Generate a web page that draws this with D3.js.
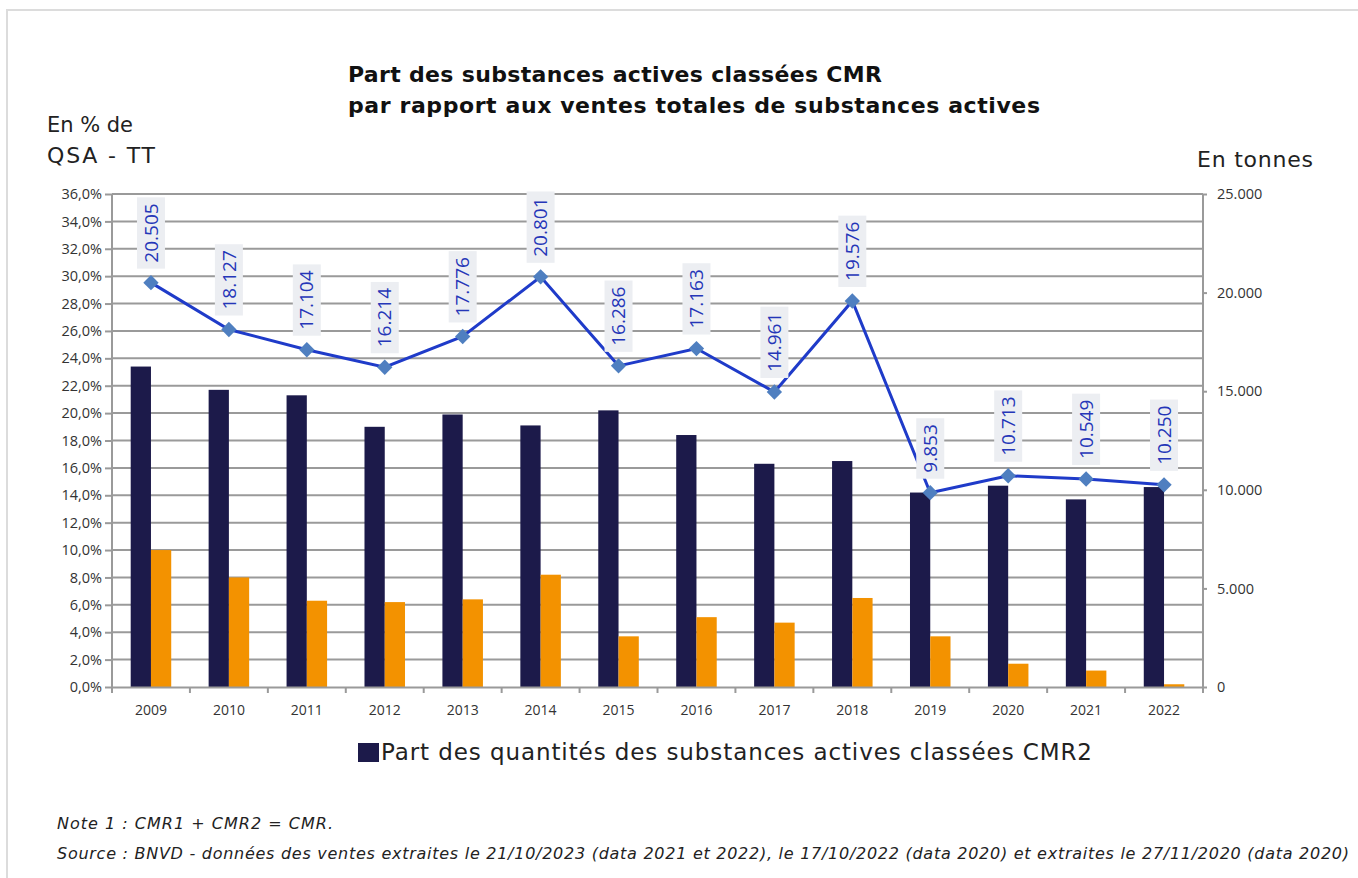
<!DOCTYPE html>
<html>
<head>
<meta charset="utf-8">
<script src="https://cdn.jsdelivr.net/npm/d3@7"></script>
<style>
  html, body { margin: 0; padding: 0; background: #fff; }
  svg { display: block; font-family: "Open Sans", "Noto Sans", sans-serif; }
</style>
</head>
<body>
<div id="chart"></div>
<script>
// ---- Data ----
const years = ["2009","2010","2011","2012","2013","2014","2015","2016","2017","2018","2019","2020","2021","2022"];
const shareCMR2 = [23.4, 21.7, 21.3, 19.0, 19.9, 19.1, 20.2, 18.4, 16.3, 16.5, 14.2, 14.7, 13.7, 14.6];
const shareCMR1 = [10.0, 8.0, 6.3, 6.2, 6.4, 8.2, 3.7, 5.1, 4.7, 6.5, 3.7, 1.7, 1.2, 0.2];
const tonnesCMR = [20505, 18127, 17104, 16214, 17776, 20801, 16286, 17163, 14961, 19576, 9853, 10713, 10549, 10250];
const tonnesLabels = ["20.505","18.127","17.104","16.214","17.776","20.801","16.286","17.163","14.961","19.576","9.853","10.713","10.549","10.250"];
const leftTicks = [0,2,4,6,8,10,12,14,16,18,20,22,24,26,28,30,32,34,36];
const rightTicks = [0,5000,10000,15000,20000,25000];
const seriesKeys = ["cmr2","cmr1"];
const titleLines = ["Part des substances actives classées CMR", "par rapport aux ventes totales de substances actives"];
const legendLabel = "Part des quantités des substances actives classées CMR2";
const noteText = "Note 1 : CMR1 + CMR2 = CMR.";
const sourceText = "Source : BNVD - données des ventes extraites le 21/10/2023 (data 2021 et 2022), le 17/10/2022 (data 2020) et extraites le 27/11/2020 (data 2020)";

// ---- Layout ----
const W = 1358, H = 878;
const plot = { left: 112, right: 1203, top: 194, bottom: 687 };
const colors = { cmr2: "#1c1a4a", cmr1: "#f39200", line: "#1f3bc9", marker: "#4f7fc0", grid: "#9a9a9a", label: "#2536b8" };
const wideFont = "'DejaVu Sans', 'Open Sans', sans-serif";

const svg = d3.select("#chart").append("svg").attr("width", W).attr("height", H);

// frame
svg.append("rect").attr("x", 7).attr("y", 10).attr("width", W + 20).attr("height", H + 20)
  .attr("fill", "none").attr("stroke", "#dcdcdc").attr("stroke-width", 2);

// fit text to a target width: grow font-size (bounded), then letter-spacing for the rest
function fitText(sel, target, maxSize) {
  const node = sel.node();
  let fs = parseFloat(sel.attr("font-size"));
  let len = node.getComputedTextLength();
  if (len > 0) {
    const nfs = Math.min(maxSize, fs * target / len);
    sel.attr("font-size", nfs.toFixed(2));
    len = node.getComputedTextLength();
    const n = sel.text().length;
    if (n > 1) sel.attr("letter-spacing", ((target - len) / (n - 1)).toFixed(3));
  }
  return sel;
}

// ---- Scales ----
const x = d3.scaleBand().domain(years).range([plot.left, plot.right]).paddingInner(0.48).paddingOuter(0.24);
const xs = d3.scaleBand().domain(seriesKeys).range([0, x.bandwidth()]);
const yL = d3.scaleLinear().domain([0, 36]).range([plot.bottom, plot.top]);
const yR = d3.scaleLinear().domain([0, 25000]).range([plot.bottom, plot.top]);
const centerX = d => x(d) + x.bandwidth() / 2;

// ---- Grid ----
svg.append("g").selectAll("line").data(leftTicks.filter(t => t > 0)).join("line")
  .attr("x1", plot.left).attr("x2", plot.right)
  .attr("y1", d => yL(d)).attr("y2", d => yL(d))
  .attr("stroke", colors.grid).attr("stroke-width", 2);

// ---- Bars ----
const barData = years.map((y, i) => ({ year: y, cmr2: shareCMR2[i], cmr1: shareCMR1[i] }));
const groups = svg.append("g").selectAll("g").data(barData).join("g")
  .attr("transform", d => `translate(${x(d.year)},0)`);
groups.selectAll("rect").data(d => seriesKeys.map(k => ({ key: k, value: d[k] }))).join("rect")
  .attr("x", d => xs(d.key)).attr("width", xs.bandwidth())
  .attr("y", d => yL(d.value)).attr("height", d => yL(0) - yL(d.value))
  .attr("fill", d => colors[d.key]);

// ---- Axes ----
const axisL = svg.append("g").attr("transform", `translate(${plot.left},0)`)
  .call(d3.axisLeft(yL).tickValues(leftTicks).tickSize(7).tickPadding(3)
    .tickFormat(d => d3.format(".1f")(d).replace(".", ",") + "%"));
const axisR = svg.append("g").attr("transform", `translate(${plot.right},0)`)
  .call(d3.axisRight(yR).tickValues(rightTicks).tickSize(4).tickPadding(10)
    .tickFormat(d => d === 0 ? "0" : d3.format(",")(d).replace(/,/g, ".")));
const axisB = svg.append("g").attr("transform", `translate(0,${plot.bottom})`)
  .call(d3.axisBottom(x).tickSize(0).tickPadding(18));
// category separators on x axis
svg.append("g").selectAll("line").data(d3.range(years.length + 1)).join("line")
  .attr("x1", i => plot.left + i * x.step()).attr("x2", i => plot.left + i * x.step())
  .attr("y1", plot.bottom).attr("y2", plot.bottom + 6)
  .attr("stroke", colors.grid).attr("stroke-width", 2);

[axisL, axisR, axisB].forEach(a => {
  a.attr("font-family", null);
  a.select(".domain").attr("stroke", colors.grid).attr("stroke-width", 2);
  a.selectAll(".tick line").attr("stroke", colors.grid).attr("stroke-width", 2);
  a.selectAll("text").attr("font-size", 14.5).attr("fill", "#333")
    .style("font-family", "'Open Sans', sans-serif");
});
axisR.select(".domain").attr("d", `M0,${plot.top}V${plot.bottom}`);
axisL.select(".domain").attr("d", `M0,${plot.top}V${plot.bottom}`);
axisB.selectAll("text").attr("font-size", 14);

// ---- Line ----
const lineData = years.map((y, i) => ({ year: y, v: tonnesCMR[i], label: tonnesLabels[i] }));
svg.append("path").datum(lineData)
  .attr("fill", "none").attr("stroke", colors.line).attr("stroke-width", 3)
  .attr("d", d3.line().x(d => centerX(d.year)).y(d => yR(d.v)));
svg.append("g").selectAll("path").data(lineData).join("path")
  .attr("d", d3.symbol().type(d3.symbolDiamond2).size(150))
  .attr("transform", d => `translate(${centerX(d.year)},${yR(d.v)})`)
  .attr("fill", colors.marker);

// ---- Data labels (rotated) ----
const lbl = svg.append("g").selectAll("g").data(lineData).join("g")
  .attr("transform", d => `translate(${centerX(d.year)},${yR(d.v) - 14}) rotate(-90)`);
lbl.append("text").text(d => d.label)
  .attr("x", 6).attr("y", 0).attr("dy", "0.35em")
  .attr("font-size", 19).attr("fill", colors.label);
lbl.each(function () {
  const g = d3.select(this);
  const len = g.select("text").node().getComputedTextLength();
  g.insert("rect", "text").attr("x", 0).attr("y", -14).attr("width", len + 12).attr("height", 28)
    .attr("fill", "#eceef2");
});

// ---- Texts ----
function addText(str, xp, yp, size, opts = {}) {
  const t = svg.append("text").text(str).attr("x", xp).attr("y", yp)
    .attr("font-size", size).attr("fill", opts.fill || "#222")
    .style("font-family", wideFont);
  if (opts.bold) t.attr("font-weight", 700);
  if (opts.italic) t.attr("font-style", "italic");
  return fitText(t, opts.width, opts.max || size * 1.15);
}
addText(titleLines[0], 348, 82, 20, { bold: true, fill: "#111", width: 534, max: 22 });
addText(titleLines[1], 348, 113, 20, { bold: true, fill: "#111", width: 692, max: 22 });
addText("En % de", 47, 132, 20, { width: 86, max: 22 });
addText("QSA - TT", 47, 163, 20, { width: 108, max: 22 });
addText("En tonnes", 1197, 167, 20, { width: 116, max: 22 });

// ---- Legend ----
svg.append("rect").attr("x", 358).attr("y", 743).attr("width", 21).attr("height", 19).attr("fill", colors.cmr2);
addText(legendLabel, 381, 760, 21, { width: 711, max: 23 });

// ---- Notes ----
addText(noteText, 57, 829, 14.5, { italic: true, width: 276, max: 16 });
addText(sourceText, 57, 859, 14.5, { italic: true, width: 1292, max: 16 });
</script>
</body>
</html>
